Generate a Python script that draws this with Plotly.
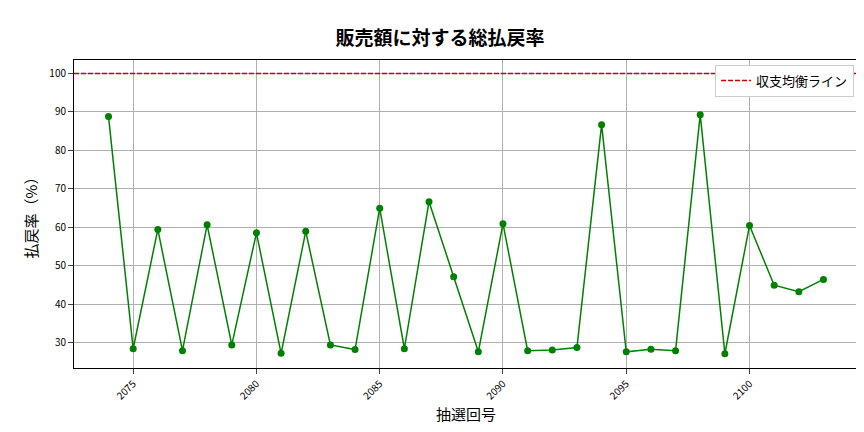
import plotly.graph_objects as go

draws = list(range(2074, 2104))
payout = [88.8, 28.5, 59.5, 28.0, 60.7, 29.5, 58.6, 27.3, 59.0, 29.5,
          28.3, 65.0, 28.5, 66.7, 47.2, 27.7, 61.0, 28.0, 28.2, 28.8,
          86.7, 27.7, 28.4, 28.0, 89.3, 27.2, 60.5, 45.0, 43.3, 46.5]
x_ticks = [2075, 2080, 2085, 2090, 2095, 2100]
y_ticks = [30, 40, 50, 60, 70, 80, 90, 100]
breakeven = 100

font = "Noto Sans CJK JP"

fig = go.Figure()
fig.add_trace(go.Scatter(
    x=draws, y=payout, mode="lines+markers",
    line=dict(color="green", width=1.5),
    marker=dict(color="green", size=7),
    showlegend=False,
))
fig.add_trace(go.Scatter(
    x=[2072.6, 2104.4], y=[breakeven, breakeven], mode="lines",
    line=dict(color="#cc0000", width=1.5, dash="5px,2px"),
    name="収支均衡ライン",
))

fig.update_layout(
    width=864, height=432,
    margin=dict(l=66, r=14, t=52, b=72, autoexpand=False),
    plot_bgcolor="white", paper_bgcolor="white",
    font=dict(family=font, color="black"),
    title=dict(text="<b>販売額に対する総払戻率</b>", x=0.5, xanchor="center",
               y=0.945, font=dict(size=19)),
    legend=dict(x=0.995, y=0.985, xanchor="right", yanchor="top",
                bordercolor="#cccccc", borderwidth=1, font=dict(size=13)),
)
fig.update_xaxes(
    range=[2072.6, 2104.4], tickvals=x_ticks, tickangle=-45, automargin=False,
    tickfont=dict(size=10), title=dict(text="抽選回号", font=dict(size=15), standoff=8),
    showgrid=True, gridcolor="#b0b0b0", gridwidth=0.8,
    showline=True, linecolor="black", mirror=True, ticks="outside",
)
fig.update_yaxes(
    range=[23.5, 103.5], tickvals=y_ticks, automargin=False,
    tickfont=dict(size=10), title=dict(text="払戻率（%）", font=dict(size=15), standoff=8),
    showgrid=True, gridcolor="#b0b0b0", gridwidth=0.8, zeroline=False,
    showline=True, linecolor="black", mirror=True, ticks="outside",
)

fig.write_html("out.html")
